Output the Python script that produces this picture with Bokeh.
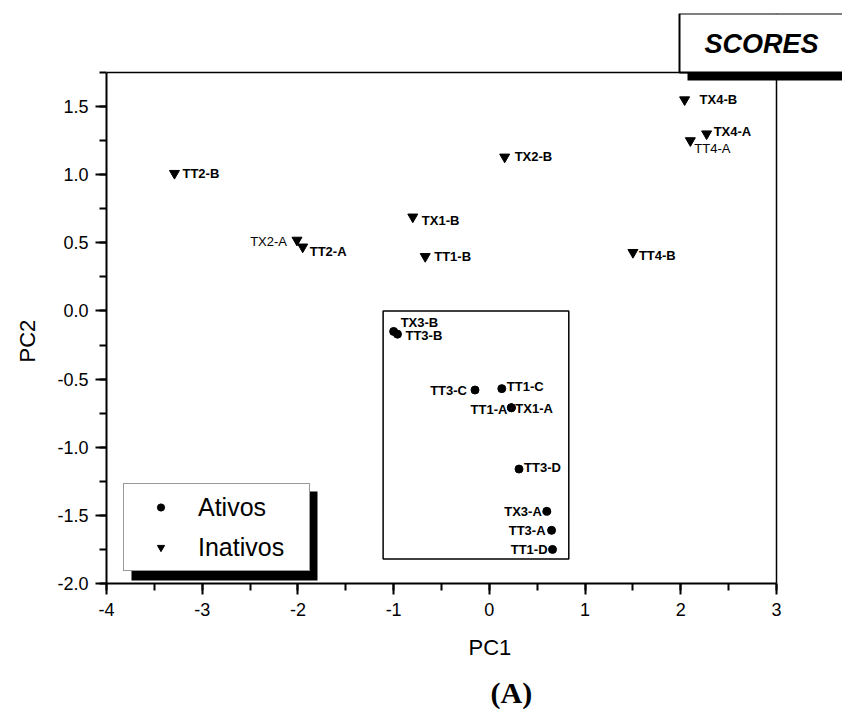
from bokeh.plotting import figure
from bokeh.models import (BoxAnnotation, Label, Legend, LegendItem, FixedTicker, Span, Title,
                          NumeralTickFormatter, ColumnDataSource, Range1d)
from bokeh.embed import file_html
from bokeh.resources import INLINE

# ---------------- data ----------------
act_names = ["TX3-B", "TT3-B", "TT3-C", "TT1-C", "TT1-A", "TX1-A", "TT3-D", "TX3-A", "TT3-A", "TT1-D"]
act_pc1 = [-1.00, -0.96, -0.15, 0.13, 0.23, 0.23, 0.31, 0.60, 0.65, 0.66]
act_pc2 = [-0.15, -0.17, -0.58, -0.57, -0.71, -0.71, -1.16, -1.47, -1.61, -1.75]

inact_names = ["TX4-B", "TX4-A", "TT4-A", "TT2-B", "TX2-B", "TX1-B", "TX2-A", "TT2-A", "TT1-B", "TT4-B"]
inact_pc1 = [2.04, 2.27, 2.10, -3.29, 0.16, -0.80, -2.01, -1.95, -0.67, 1.50]
inact_pc2 = [1.55, 1.30, 1.25, 1.01, 1.13, 0.69, 0.52, 0.47, 0.40, 0.43]

x_ticks = [-4, -3, -2, -1, 0, 1, 2, 3]
y_ticks = [-2.0, -1.5, -1.0, -0.5, 0.0, 0.5, 1.0, 1.5]
x_lim = (-4, 3)
y_lim = (-2.0, 1.75)

# cluster box (data units) around the active compounds
cluster_left, cluster_right, cluster_top, cluster_bottom = -1.11, 0.83, 0.0, -1.82

# ---------------- label styling (screen offsets) ----------------
act_dx = [7, 8, -8, 5, -4, 4, 5, -5, -6, -5]
act_dy = [-9, 1, 0, -2, 2, 1, -2, 0, 0, 0]
act_align = ["left", "left", "right", "left", "right", "left", "left", "right", "right", "right"]
act_style = ["bold"] * 10

inact_dx = [15, 7, 4, 8, 10, 9, -10, 7, 9, 6]
inact_dy = [0, -2, 8, 0, 0, 4, 1, 5, 0, 3]
inact_align = ["left", "left", "left", "left", "left", "left", "right", "left", "left", "left"]
inact_style = ["bold", "bold", "normal", "bold", "bold", "bold", "normal", "bold", "bold", "bold"]

FONT = "Liberation Sans"

# geometry: axes box 670 x 511 px; extra room right/top for the SCORES box
AX_W, AX_H = 670, 511
EXTRA_R, EXTRA_T = 66, 59
px_x = AX_W / (x_lim[1] - x_lim[0])
px_y = AX_H / (y_lim[1] - y_lim[0])

src_a = ColumnDataSource(dict(x=act_pc1, y=act_pc2, t=act_names, dx=act_dx, dy=act_dy,
                              al=act_align, fs=act_style))
src_i = ColumnDataSource(dict(x=inact_pc1, y=inact_pc2, t=inact_names, dx=inact_dx, dy=inact_dy,
                              al=inact_align, fs=inact_style))

p = figure(frame_width=AX_W + EXTRA_R, frame_height=AX_H + EXTRA_T,
           x_range=Range1d(x_lim[0], x_lim[1] + EXTRA_R / px_x),
           y_range=Range1d(y_lim[0], y_lim[1] + EXTRA_T / px_y),
           min_border_left=106, min_border_right=0, min_border_top=13, min_border_bottom=10,
           output_backend="svg", toolbar_location=None)

p.xgrid.visible = False
p.ygrid.visible = False
p.background_fill_color = "white"
p.border_fill_color = "white"
p.outline_line_color = None

# axes
p.xaxis.bounds = x_lim
p.yaxis.bounds = y_lim
p.xaxis.ticker = FixedTicker(ticks=x_ticks, minor_ticks=[v / 2 for v in range(-8, 7)])
p.yaxis.ticker = FixedTicker(ticks=y_ticks, minor_ticks=[v / 4 for v in range(-8, 8)])
p.xaxis.formatter = NumeralTickFormatter(format="0")
p.yaxis.formatter = NumeralTickFormatter(format="0.0")
for ax in (p.xaxis, p.yaxis):
    ax.axis_line_width = 2
    ax.axis_line_color = "black"
    ax.major_tick_line_width = 2
    ax.minor_tick_line_width = 2
    ax.major_tick_in = 0
    ax.major_tick_out = 11
    ax.minor_tick_in = 0
    ax.minor_tick_out = 7
    ax.major_label_text_font = FONT
    ax.major_label_text_font_size = "18px"
    ax.major_label_text_color = "black"
p.xaxis.major_label_standoff = 8
p.yaxis.major_label_standoff = 7

# axis titles (placed as side titles so they can sit where the original has them)
p.add_layout(Title(text="PC2", align="left", offset=221, vertical_align="top", standoff=26,
                   text_font=FONT, text_font_size="22px", text_font_style="normal",
                   text_color="black"), "left")
p.add_layout(Title(text="PC1", align="left", offset=362, vertical_align="middle", standoff=30,
                   text_font=FONT, text_font_size="22px", text_font_style="normal",
                   text_color="black"), "below")
p.add_layout(Title(text="(A)", align="left", offset=384, vertical_align="top", standoff=0,
                   text_font="Liberation Serif", text_font_size="30px", text_font_style="bold",
                   text_color="black"), "below")

# top and right edges of the axes box
p.add_layout(Span(location=x_lim[1], dimension="height", line_color="black", line_width=1.5))
p.add_layout(Span(location=y_lim[1], dimension="width", line_color="black", line_width=1.5))

# cluster rectangle
p.add_layout(BoxAnnotation(left=cluster_left, right=cluster_right, top=cluster_top, bottom=cluster_bottom,
                           fill_alpha=0, line_color="black", line_alpha=1, line_width=1.5))

# points
r_a = p.scatter("x", "y", source=src_a, marker="circle", size=8, color="black")
r_i = p.scatter("x", "y", source=src_i, marker="inverted_triangle", size=10, color="black")

# point labels
for src in (src_a, src_i):
    p.text("x", "y", text="t", source=src, x_offset="dx", y_offset="dy",
           text_align="al", text_baseline="middle", text_font_style="fs",
           text_font=dict(value=FONT), text_font_size="13px", text_color="black")

# legend with drop shadow
p.add_layout(BoxAnnotation(left=25, right=211, bottom=3, top=92,
                           left_units="screen", right_units="screen",
                           top_units="screen", bottom_units="screen",
                           fill_color="black", fill_alpha=1, line_alpha=0))
legend = Legend(items=[LegendItem(label="Ativos", renderers=[r_a]),
                       LegendItem(label="Inativos", renderers=[r_i])],
                location=(17, 12), orientation="vertical",
                padding=8, spacing=10, margin=0,
                glyph_width=57, glyph_height=18, label_height=30, label_width=103,
                label_standoff=9,
                label_text_font=FONT, label_text_font_size="25px", label_text_color="black",
                border_line_color="#333333", border_line_width=1,
                background_fill_color="white", background_fill_alpha=1)
p.add_layout(legend)

# SCORES box with shadow
p.add_layout(BoxAnnotation(left=581, right=760, bottom=503, top=511,
                           left_units="screen", right_units="screen",
                           top_units="screen", bottom_units="screen",
                           fill_color="black", fill_alpha=1, line_alpha=0))
p.add_layout(BoxAnnotation(left=573, right=760, bottom=511, top=570,
                           left_units="screen", right_units="screen",
                           top_units="screen", bottom_units="screen",
                           fill_color="white", fill_alpha=1, line_color="black", line_alpha=1,
                           line_width=2))
p.add_layout(Label(x=655, y=540, x_units="screen", y_units="screen", text="SCORES",
                   text_align="center", text_baseline="middle",
                   text_font=FONT, text_font_size="27px", text_font_style="bold italic",
                   text_color="black"))

open("out.html", "w").write(file_html(p, INLINE))
